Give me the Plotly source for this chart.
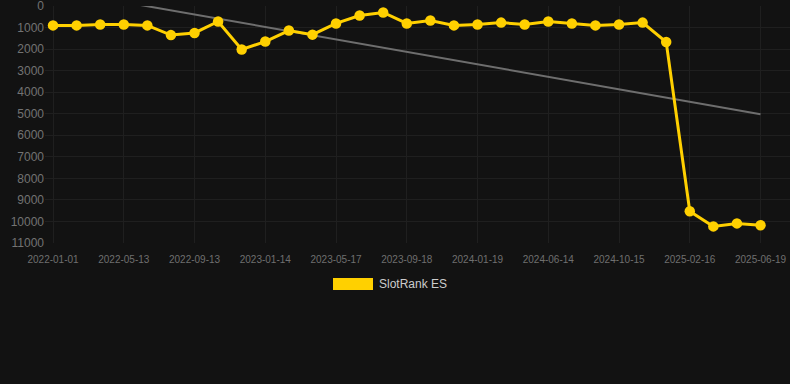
import numpy as np
import plotly.graph_objects as go

tick_labels = ["2022-01-01", "2022-05-13", "2022-09-13", "2023-01-14", "2023-05-17",
               "2023-09-18", "2024-01-19", "2024-06-14", "2024-10-15", "2025-02-16", "2025-06-19"]
rank_es = [900, 900, 860, 860, 900, 1350, 1250, 720, 2020, 1650, 1140, 1330, 810, 440, 300,
           810, 670, 900, 860, 770, 860, 720, 810, 900, 860, 770, 1670, 9530, 10230, 10090, 10180]
series_name = "SlotRank ES"

x = np.arange(len(rank_es))
slope, intercept = np.polyfit(x, rank_es, 1)
trend = slope * x + intercept

fig = go.Figure()
fig.add_trace(go.Scatter(x=x, y=trend, mode="lines",
                         line=dict(color="#6e6e6e", width=2), showlegend=False, hoverinfo="skip"))
fig.add_trace(go.Scatter(x=x, y=rank_es, mode="lines+markers", name=series_name,
                         line=dict(color="#FFD000", width=3),
                         marker=dict(color="#FFD000", size=10.5), showlegend=False))

tickvals = list(range(0, len(rank_es), 3))
fig.update_xaxes(range=[-0.34, 31.25], tickvals=tickvals, ticktext=tick_labels,
                 showgrid=True, gridcolor="#1f1f1f", gridwidth=1, zeroline=False,
                 showline=False, ticks="", ticklabelstandoff=9, ticklabeloverflow="allow",
                 tickfont=dict(family="Arial", size=10, color="#6f6f6f"))
fig.update_yaxes(range=[11000, 0], dtick=1000, tickformat="d",
                 showgrid=True, gridcolor="#1f1f1f", gridwidth=1, zeroline=False,
                 showline=False, ticks="", ticklabeloverflow="allow",
                 tickfont=dict(family="Arial", size=12, color="#737373"))

# legend (drawn manually)
fig.add_shape(type="rect", xref="paper", yref="paper",
              x0=(333 - 45) / 745, x1=(373 - 45) / 745,
              y0=-(290 - 243) / 237, y1=-(278 - 243) / 237,
              fillcolor="#FFD000", line=dict(width=0))
fig.add_annotation(xref="paper", yref="paper", x=(377 - 45) / 745, y=-(284 - 243) / 237,
                   text=series_name, showarrow=False, xanchor="left", yanchor="middle",
                   font=dict(family="Arial", size=12, color="#cccccc"))

fig.update_layout(width=790, height=384, paper_bgcolor="#121212", plot_bgcolor="#121212",
                  margin=dict(l=45, r=0, t=6, b=141), showlegend=False)
fig.write_html("out.html", config={"displayModeBar": False},
               post_script="document.body.style.margin='0';document.body.style.background='#121212';")
